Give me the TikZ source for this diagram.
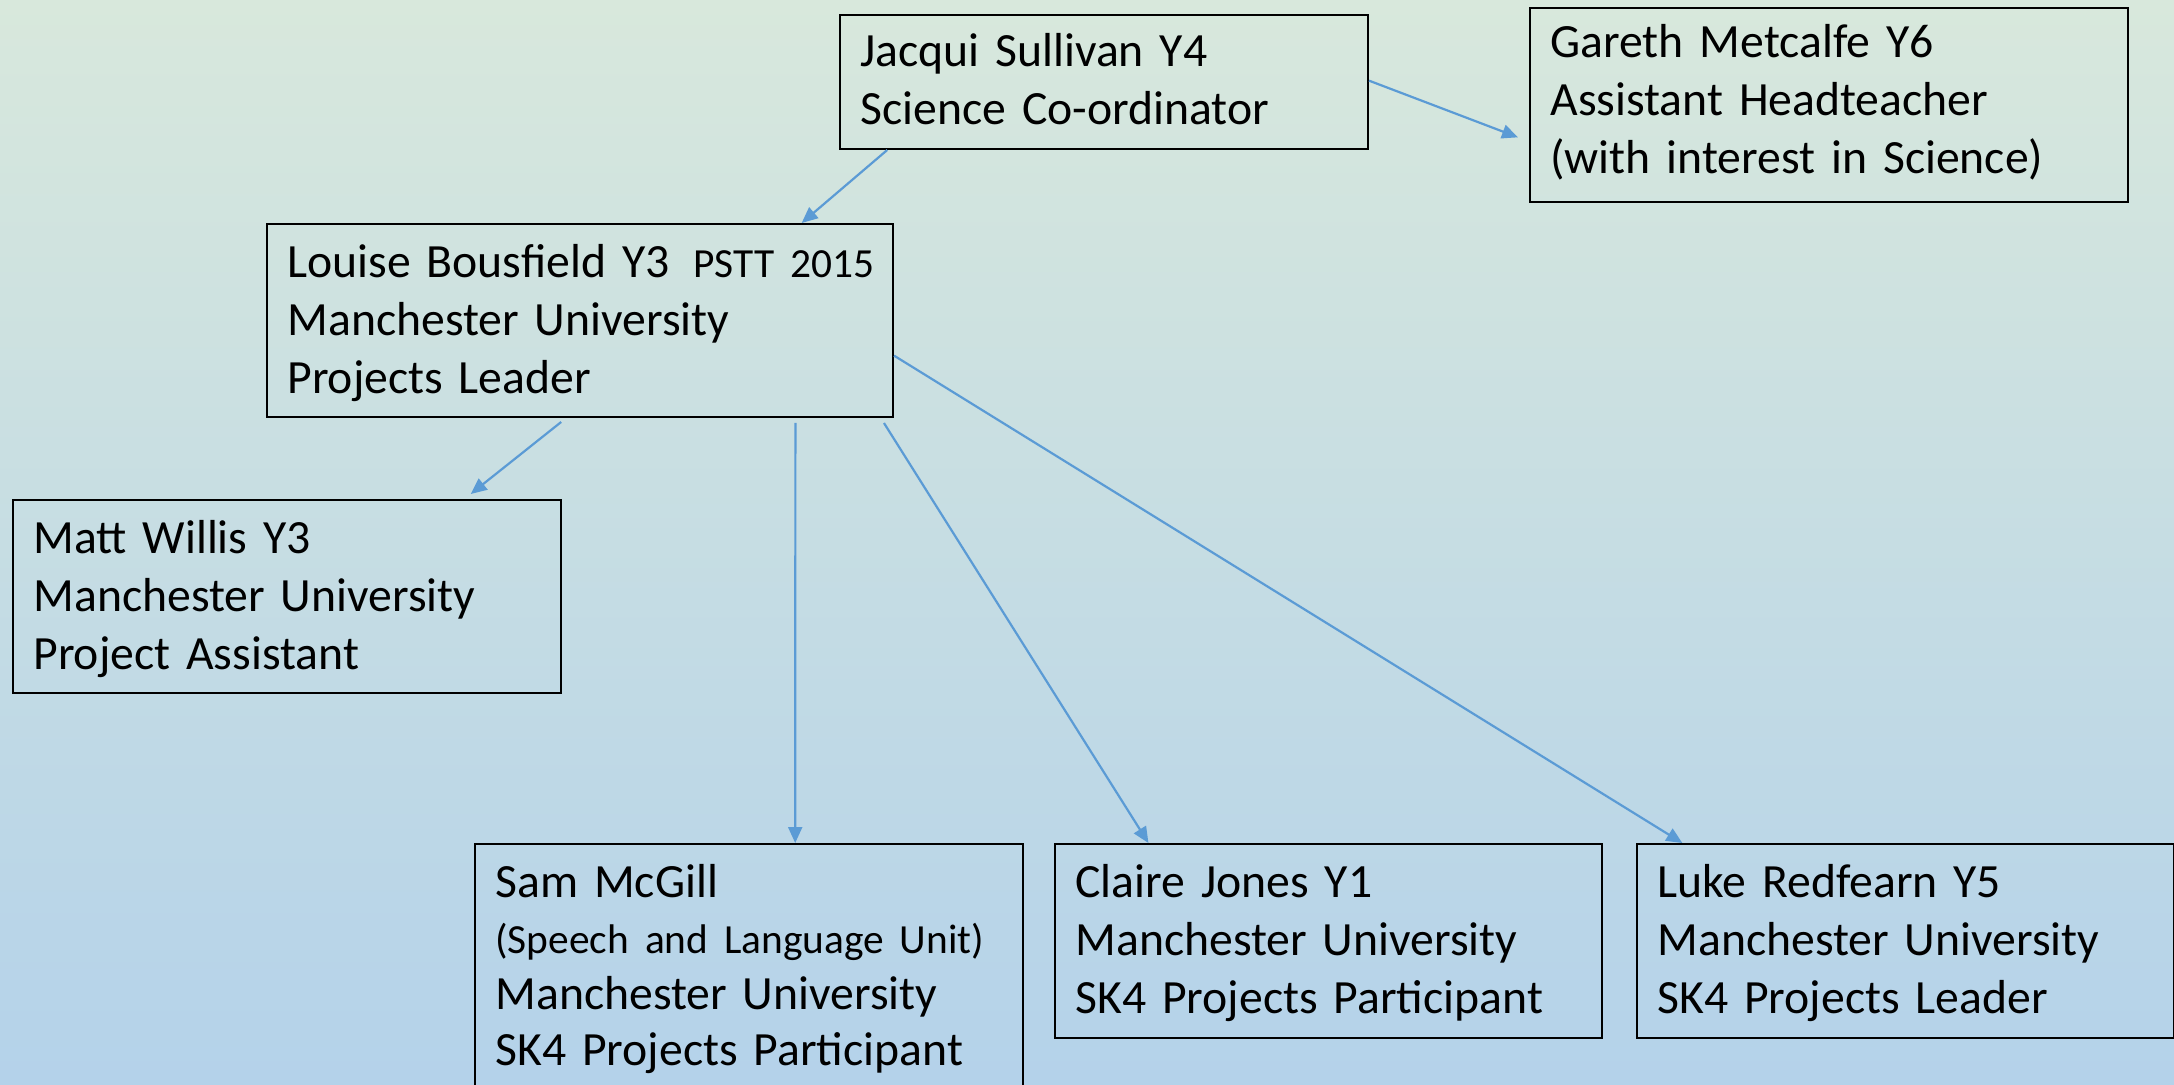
\documentclass[tikz,border=0pt]{standalone}
\usepackage{fontspec}
\setmainfont[WordSpace=0.75]{Carlito}
\usetikzlibrary{calc,arrows.meta}
\definecolor{bgtop}{HTML}{D8E8DC}
\definecolor{bgbot}{HTML}{B4D2EA}
\definecolor{linkblue}{HTML}{5B9BD5}
\newcommand{\smalltxt}[1]{{\fontsize{20.7}{29}\selectfont #1}}
\begin{document}
\begin{tikzpicture}[x=0.5pt,y=-0.5pt,
  box/.style={draw=black, line width=1pt, anchor=north west, inner sep=0pt},
  txt/.style={anchor=base west, inner sep=0pt, text width=300pt, align=left,
    font=\fontsize{23.85}{29}\selectfont},
  conn/.style={draw=linkblue, line width=1.1pt, -{Triangle[length=8pt,width=7pt]}}]
\useasboundingbox (0,0) rectangle (2174,1085);
\clip (0,0) rectangle (2174,1085);
\shade[top color=bgtop, bottom color=bgbot] (0,0) rectangle (2174,1085);

% boxes
\node[box, minimum width=264pt, minimum height=67pt] (jac) at (839,14) {};
\node[box, minimum width=299pt, minimum height=97pt] (gar) at (1529,7) {};
\node[box, minimum width=313pt, minimum height=96.5pt] (lou) at (266,223) {};
\node[box, minimum width=274pt, minimum height=96.5pt] (mat) at (12,499) {};
\node[box, minimum width=274pt, minimum height=130pt] (sam) at (474,843) {};
\node[box, minimum width=273.5pt, minimum height=97pt] (cla) at (1054,843) {};
\node[box, minimum width=268.5pt, minimum height=97pt] (luk) at (1636,843) {};

% texts
\node[txt] (jac-t) at ($(jac.north west)+(21,53)$) {Jacqui Sullivan Y4\\Science Co-ordinator};
\node[txt] (gar-t) at ($(gar.north west)+(21,51)$) {Gareth Metcalfe Y6\\Assistant Headteacher\\(with interest in Science)};
\node[txt] (lou-t) at ($(lou.north west)+(21,55)$) {Louise Bousfield Y3\hspace{12pt}\smalltxt{PSTT 2015}\\Manchester University\\Projects Leader};
\node[txt] (mat-t) at ($(mat.north west)+(21,54)$) {Matt Willis Y3\\Manchester University\\Project Assistant};
\node[txt, font=\fontsize{23.85}{28}\selectfont] (sam-t) at ($(sam.north west)+(21,54)$) {Sam McGill\\\smalltxt{(Speech and Language Unit)}\\Manchester University\\SK4 Projects Participant};
\node[txt] (cla-t) at ($(cla.north west)+(21,54)$) {Claire Jones Y1\\Manchester University\\SK4 Projects Participant};
\node[txt] (luk-t) at ($(luk.north west)+(21,54)$) {Luke Redfearn Y5\\Manchester University\\SK4 Projects Leader};

% connectors
\draw[conn] ($(jac.south west)!0.091!(jac.south east)$) -- ($(lou.north west)!0.853!(lou.north east)$);
\draw[conn] ($(jac.north east)!0.49!(jac.south east)$) -- ($(gar.north west)!0.665!(gar.south west)+(-11,0)$);
\draw[conn] ($(lou.south west)!0.47!(lou.south east)+(0,4)$) -- ($(mat.north west)!0.834!(mat.north east)+(0,-5)$);
\draw[conn] ($(lou.south west)!0.843!(lou.south east)+(0,5)$) -- ($(sam.north west)!0.584!(sam.north east)$);
\draw[conn] ($(lou.south west)!0.984!(lou.south east)+(0,5)$) -- ($(cla.north west)!0.172!(cla.north east)$);
\draw[conn] ($(lou.north east)!0.68!(lou.south east)$) -- ($(luk.north west)!0.086!(luk.north east)$);
\end{tikzpicture}
\end{document}
